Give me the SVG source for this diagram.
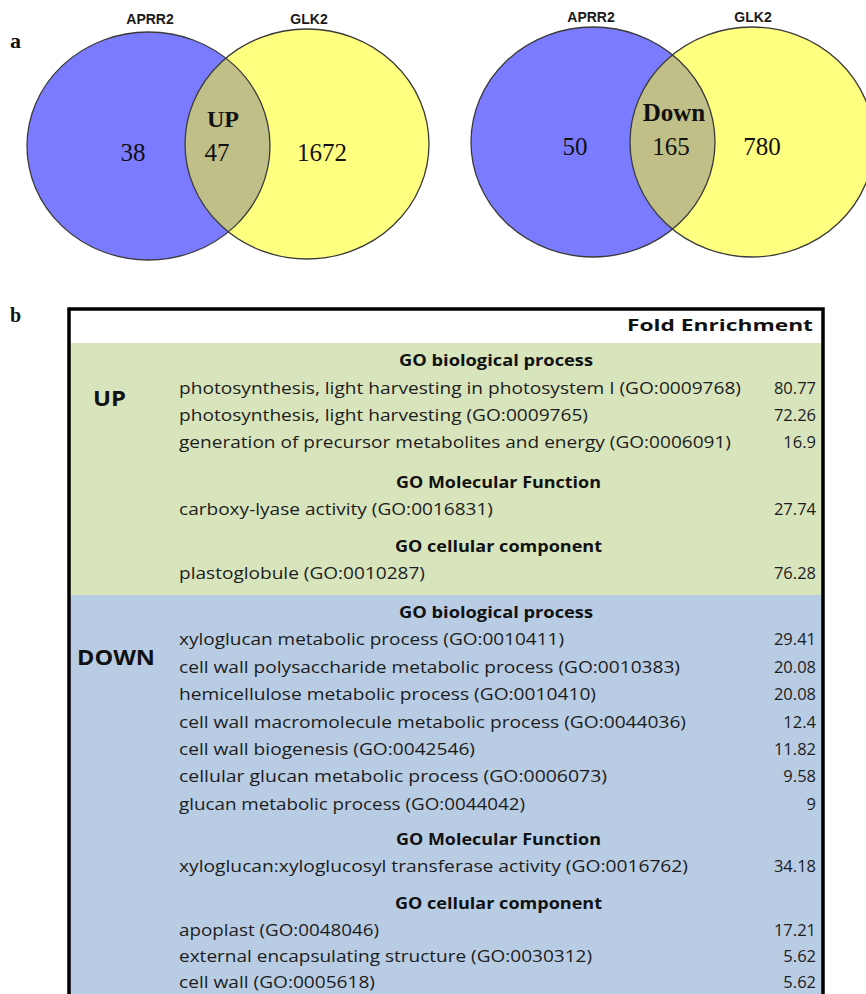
<svg xmlns="http://www.w3.org/2000/svg" width="866" height="994" viewBox="0 0 866 994">
<style>
.lbl{font-family:"Liberation Sans",Arial,sans-serif;font-weight:bold;font-size:14px;fill:#1a1a1a;text-anchor:middle}
.num{font-family:"Liberation Serif","Times New Roman",serif;font-size:25px;fill:#111;text-anchor:middle}
.big{font-family:"Liberation Serif","Times New Roman",serif;font-weight:bold;fill:#111;text-anchor:middle}
.pl{font-family:"Liberation Serif","Times New Roman",serif;font-weight:bold;fill:#111}
.blue{fill:#7b7bff}
.yel{fill:#ffff80}
.mid{fill:#bfbf87}
.ring{fill:none;stroke:#3a3a3a;stroke-width:1.3}
.t{font-family:"Open Sans","Noto Sans",sans-serif;font-size:16.5px;fill:#1c1c1c}
.v{font-family:"Open Sans","Noto Sans",sans-serif;font-size:16.5px;fill:#1c1c1c;text-anchor:end}
.h{font-family:"Open Sans","Noto Sans",sans-serif;font-size:16.5px;font-weight:bold;fill:#111}
.sec{font-family:"Open Sans","Noto Sans",sans-serif;font-size:22px;font-weight:bold;fill:#111}
</style>
<defs>
<clipPath id="cpL"><ellipse cx="148.5" cy="146" rx="121.5" ry="114"/></clipPath>
<clipPath id="cpR"><ellipse cx="593" cy="142" rx="122" ry="115"/></clipPath>
</defs>
<rect width="866" height="994" fill="#fff"/>

<text class="pl" x="10" y="48" font-size="22">a</text>
<text class="pl" x="10" y="322" font-size="20">b</text>

<g id="venn-up">
<ellipse class="blue" cx="148.5" cy="146" rx="121.5" ry="114"/>
<ellipse class="yel" cx="307" cy="144" rx="122" ry="115"/>
<ellipse class="mid" cx="307" cy="144" rx="122" ry="115" clip-path="url(#cpL)"/>
<ellipse class="ring" cx="148.5" cy="146" rx="121.5" ry="114"/>
<ellipse class="ring" cx="307" cy="144" rx="122" ry="115"/>
<text class="lbl" x="150" y="24">APRR2</text>
<text class="lbl" x="309" y="24">GLK2</text>
<text class="big" x="223" y="127" font-size="24">UP</text>
<text class="num" x="133" y="161">38</text>
<text class="num" x="217" y="161">47</text>
<text class="num" x="322" y="161">1672</text>
</g>

<g id="venn-down">
<ellipse class="blue" cx="593" cy="142" rx="122" ry="115"/>
<ellipse class="yel" cx="752" cy="142" rx="122" ry="115"/>
<ellipse class="mid" cx="752" cy="142" rx="122" ry="115" clip-path="url(#cpR)"/>
<ellipse class="ring" cx="593" cy="142" rx="122" ry="115"/>
<ellipse class="ring" cx="752" cy="142" rx="122" ry="115"/>
<text class="lbl" x="591" y="22">APRR2</text>
<text class="lbl" x="753" y="22">GLK2</text>
<text class="big" x="674" y="121" font-size="25">Down</text>
<text class="num" x="575" y="155">50</text>
<text class="num" x="671" y="155">165</text>
<text class="num" x="762" y="155">780</text>
</g>

<g id="table">
<rect x="70" y="343" width="752" height="252" fill="#d8e4bc"/>
<rect x="70" y="595" width="752" height="402" fill="#b8cce4"/>
<rect x="69" y="309" width="754" height="700" fill="none" stroke="#000" stroke-width="3.5"/>
<text class="h" x="627" y="331" font-size="21" textLength="186" lengthAdjust="spacingAndGlyphs">Fold Enrichment</text>
</g>

<g id="up-section">
<text class="sec" x="93" y="406" textLength="33" lengthAdjust="spacingAndGlyphs">UP</text>
<text class="h" x="399" y="366" textLength="194" lengthAdjust="spacingAndGlyphs">GO biological process</text>
<text class="t" x="179" y="394" textLength="562" lengthAdjust="spacingAndGlyphs">photosynthesis, light harvesting in photosystem I (GO:0009768)</text>
<text class="v" x="816" y="394">80.77</text>
<text class="t" x="179" y="421" textLength="409" lengthAdjust="spacingAndGlyphs">photosynthesis, light harvesting (GO:0009765)</text>
<text class="v" x="816" y="421">72.26</text>
<text class="t" x="179" y="448" textLength="552" lengthAdjust="spacingAndGlyphs">generation of precursor metabolites and energy (GO:0006091)</text>
<text class="v" x="816" y="448">16.9</text>
<text class="h" x="396" y="488" textLength="205" lengthAdjust="spacingAndGlyphs">GO Molecular Function</text>
<text class="t" x="179" y="515" textLength="314" lengthAdjust="spacingAndGlyphs">carboxy-lyase activity (GO:0016831)</text>
<text class="v" x="816" y="515">27.74</text>
<text class="h" x="395" y="552" textLength="207" lengthAdjust="spacingAndGlyphs">GO cellular component</text>
<text class="t" x="179" y="579" textLength="246" lengthAdjust="spacingAndGlyphs">plastoglobule (GO:0010287)</text>
<text class="v" x="816" y="579">76.28</text>
</g>

<g id="down-section">
<text class="sec" x="77" y="665" textLength="78" lengthAdjust="spacingAndGlyphs">DOWN</text>
<text class="h" x="399" y="618" textLength="194" lengthAdjust="spacingAndGlyphs">GO biological process</text>
<text class="t" x="179" y="645" textLength="385" lengthAdjust="spacingAndGlyphs">xyloglucan metabolic process (GO:0010411)</text>
<text class="v" x="816" y="645">29.41</text>
<text class="t" x="179" y="673" textLength="501" lengthAdjust="spacingAndGlyphs">cell wall polysaccharide metabolic process (GO:0010383)</text>
<text class="v" x="816" y="673">20.08</text>
<text class="t" x="179" y="700" textLength="417" lengthAdjust="spacingAndGlyphs">hemicellulose metabolic process (GO:0010410)</text>
<text class="v" x="816" y="700">20.08</text>
<text class="t" x="179" y="728" textLength="507" lengthAdjust="spacingAndGlyphs">cell wall macromolecule metabolic process (GO:0044036)</text>
<text class="v" x="816" y="728">12.4</text>
<text class="t" x="179" y="755" textLength="296" lengthAdjust="spacingAndGlyphs">cell wall biogenesis (GO:0042546)</text>
<text class="v" x="816" y="755">11.82</text>
<text class="t" x="179" y="782" textLength="428" lengthAdjust="spacingAndGlyphs">cellular glucan metabolic process (GO:0006073)</text>
<text class="v" x="816" y="782">9.58</text>
<text class="t" x="179" y="810" textLength="346" lengthAdjust="spacingAndGlyphs">glucan metabolic process (GO:0044042)</text>
<text class="v" x="816" y="810">9</text>
<text class="h" x="396" y="845" textLength="205" lengthAdjust="spacingAndGlyphs">GO Molecular Function</text>
<text class="t" x="179" y="872" textLength="509" lengthAdjust="spacingAndGlyphs">xyloglucan:xyloglucosyl transferase activity (GO:0016762)</text>
<text class="v" x="816" y="872">34.18</text>
<text class="h" x="395" y="909" textLength="207" lengthAdjust="spacingAndGlyphs">GO cellular component</text>
<text class="t" x="179" y="936" textLength="200" lengthAdjust="spacingAndGlyphs">apoplast (GO:0048046)</text>
<text class="v" x="816" y="936">17.21</text>
<text class="t" x="179" y="962" textLength="413" lengthAdjust="spacingAndGlyphs">external encapsulating structure (GO:0030312)</text>
<text class="v" x="816" y="962">5.62</text>
<text class="t" x="179" y="988" textLength="196" lengthAdjust="spacingAndGlyphs">cell wall (GO:0005618)</text>
<text class="v" x="816" y="988">5.62</text>
</g>
</svg>
